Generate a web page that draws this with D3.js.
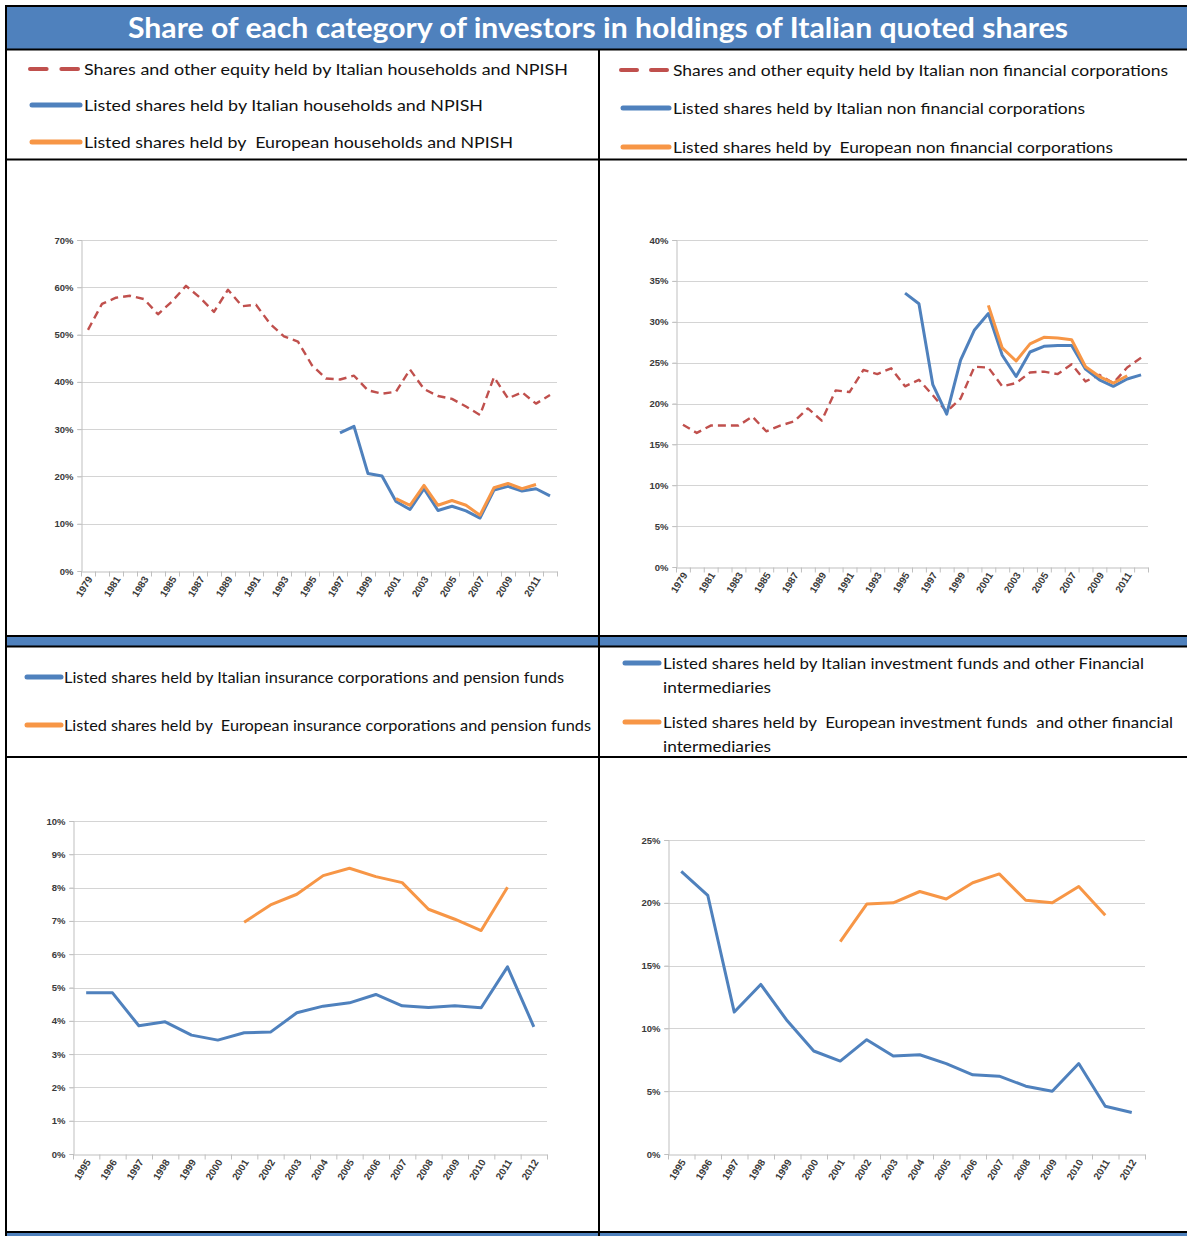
<!DOCTYPE html>
<html>
<head>
<meta charset="utf-8">
<script src="https://cdn.jsdelivr.net/npm/d3@7"></script>
<style>
  body { margin: 0; background: #fff; }
  svg { display: block; font-family: Lato, "Open Sans", sans-serif; }
  text { white-space: pre; }
</style>
</head>
<body>
<svg id="chart" width="1187" height="1236"></svg>
<script>
// ---- Data (values in %) ----
const title = "Share of each category of investors in holdings of Italian quoted shares";

const yearsLong = [1979, 1980, 1981, 1982, 1983, 1984, 1985, 1986, 1987, 1988, 1989, 1990,
  1991, 1992, 1993, 1994, 1995, 1996, 1997, 1998, 1999, 2000, 2001, 2002, 2003, 2004,
  2005, 2006, 2007, 2008, 2009, 2010, 2011, 2012];
const yearsShort = [1995, 1996, 1997, 1998, 1999, 2000, 2001, 2002, 2003, 2004, 2005,
  2006, 2007, 2008, 2009, 2010, 2011, 2012];

// Households and NPISH (1979-2012)
const hhEquityItaly = [51, 56.5, 57.8, 58.2, 57.5, 54.3, 57, 60.3, 57.8, 54.8, 59.5, 56,
  56.3, 52.3, 49.6, 48.5, 43.5, 40.7, 40.5, 41.3, 38.2, 37.5, 37.9, 42.6, 38.5, 37,
  36.4, 34.8, 33, 41, 36.5, 37.8, 35.4, 37.2];
const hhListedItaly = [null, null, null, null, null, null, null, null, null, null, null, null,
  null, null, null, null, null, null, 29.2, 30.6, 20.6, 20.1, 14.7, 13, 17.4, 12.8,
  13.7, 12.7, 11.2, 17.1, 17.9, 16.9, 17.4, 15.9];
const hhListedEurope = [null, null, null, null, null, null, null, null, null, null, null, null,
  null, null, null, null, null, null, null, null, null, null, 15.3, 13.9, 18.1, 13.9,
  14.9, 13.9, 11.8, 17.6, 18.5, 17.4, 18.3, null];

// Non financial corporations (1979-2012)
const nfcEquityItaly = [17.4, 16.4, 17.3, 17.3, 17.3, 18.4, 16.6, 17.3, 17.8, 19.4, 17.9, 21.6,
  21.4, 24.1, 23.6, 24.3, 22.1, 22.9, 21, 19, 20.6, 24.5, 24.4, 22.1, 22.5, 23.8,
  23.9, 23.6, 24.8, 22.7, 23.5, 22.5, 24.4, 25.6];
const nfcListedItaly = [null, null, null, null, null, null, null, null, null, null, null, null,
  null, null, null, null, 33.5, 32.2, 22.3, 18.7, 25.3, 29, 31, 25.9, 23.3, 26.3,
  27, 27.1, 27.1, 24.2, 22.9, 22.1, 23, 23.5];
const nfcListedEurope = [null, null, null, null, null, null, null, null, null, null, null, null,
  null, null, null, null, null, null, null, null, null, null, 32, 26.8, 25.2, 27.3,
  28.1, 28, 27.8, 24.5, 23.3, 22.5, 23.4, null];

// Insurance corporations and pension funds (1995-2012)
const icpfListedItaly = [4.84, 4.84, 3.85, 3.97, 3.57, 3.42, 3.64, 3.66, 4.24, 4.44, 4.54,
  4.79, 4.45, 4.4, 4.45, 4.39, 5.62, 3.82];
const icpfListedEurope = [null, null, null, null, null, null, 6.96, 7.48, 7.8, 8.36, 8.58,
  8.33, 8.15, 7.35, 7.05, 6.71, 8.01, null];

// Investment funds and other financial intermediaries (1995-2012)
const ofiListedItaly = [22.5, 20.6, 11.3, 13.5, 10.6, 8.2, 7.4, 9.1, 7.8, 7.9, 7.2,
  6.3, 6.2, 5.4, 5.0, 7.2, 3.8, 3.3];
const ofiListedEurope = [null, null, null, null, null, null, 16.9, 19.9, 20, 20.9, 20.3,
  21.6, 22.3, 20.2, 20, 21.3, 19, null];

// Legend labels (arrays of lines)
const hhLabels = [["Shares and other equity held by Italian households and NPISH"],
  ["Listed shares held by Italian households and NPISH"],
  ["Listed shares held by  European households and NPISH"]];
const nfcLabels = [["Shares and other equity held by Italian non financial corporations"],
  ["Listed shares held by Italian non financial corporations"],
  ["Listed shares held by  European non financial corporations"]];
const icpfLabels = [["Listed shares held by Italian insurance corporations and pension funds"],
  ["Listed shares held by  European insurance corporations and pension funds"]];
const ofiLabels = [["Listed shares held by Italian investment funds and other Financial", "intermediaries"],
  ["Listed shares held by  European investment funds  and other financial", "intermediaries"]];

// ---- Styles ----
const RED = "#c0504d", BLUE = "#4f81bd", ORANGE = "#f79646";

// ---- Layout of the four panels ----
const panels = [
  {
    cats: yearsLong, labelStep: 2, yMax: 70, yStep: 10,
    plot: { left: 81, right: 557, top: 240, bottom: 571 },
    series: [
      { values: hhEquityItaly, color: RED, dashed: true },
      { values: hhListedItaly, color: BLUE },
      { values: hhListedEurope, color: ORANGE },
    ],
    legend: { symX: 30, symW: 52, textX: 84, rows: [69, 105, 142], widths: [[484], [399], [429]], labels: hhLabels },
  },
  {
    cats: yearsLong, labelStep: 2, yMax: 40, yStep: 5,
    plot: { left: 676, right: 1148, top: 240, bottom: 567 },
    series: [
      { values: nfcEquityItaly, color: RED, dashed: true },
      { values: nfcListedItaly, color: BLUE },
      { values: nfcListedEurope, color: ORANGE },
    ],
    legend: { symX: 621, symW: 50, textX: 673, rows: [70, 108, 147], widths: [[495], [412], [440]], labels: nfcLabels },
  },
  {
    cats: yearsShort, labelStep: 1, yMax: 10, yStep: 1,
    plot: { left: 73, right: 547, top: 821, bottom: 1154 },
    series: [
      { values: icpfListedItaly, color: BLUE },
      { values: icpfListedEurope, color: ORANGE },
    ],
    legend: { symX: 25, symW: 38, textX: 64, rows: [677, 725], widths: [[500], [527]], labels: icpfLabels },
  },
  {
    cats: yearsShort, labelStep: 1, yMax: 25, yStep: 5,
    plot: { left: 668, right: 1145, top: 840, bottom: 1154 },
    series: [
      { values: ofiListedItaly, color: BLUE },
      { values: ofiListedEurope, color: ORANGE },
    ],
    legend: { symX: 623, symW: 38, textX: 663, rows: [663, 722], widths: [[481, 108], [510, 108]], labels: ofiLabels },
  },
];

const svg = d3.select("#chart");

// ---- Frame: title bar, bands and separators ----
svg.append("rect").attr("x", 7).attr("y", 7).attr("width", 1180).attr("height", 42).attr("fill", BLUE);
svg.append("rect").attr("x", 7).attr("y", 637).attr("width", 1180).attr("height", 9).attr("fill", BLUE);
svg.append("rect").attr("x", 7).attr("y", 1233).attr("width", 1180).attr("height", 3).attr("fill", BLUE);

const hLines = [6, 49.5, 159.5, 636, 646.5, 757, 1232];
svg.selectAll(".hline").data(hLines).enter().append("line")
  .attr("x1", 5).attr("x2", 1187)
  .attr("y1", (d) => d).attr("y2", (d) => d)
  .attr("stroke", "#000").attr("stroke-width", 2);
svg.append("line").attr("x1", 6).attr("x2", 6).attr("y1", 5).attr("y2", 1236)
  .attr("stroke", "#000").attr("stroke-width", 2);
svg.append("line").attr("x1", 599).attr("x2", 599).attr("y1", 49).attr("y2", 1236)
  .attr("stroke", "#000").attr("stroke-width", 2);

// Title
svg.append("text")
  .attr("x", 598).attr("y", 38)
  .attr("text-anchor", "middle")
  .attr("fill", "#fff")
  .attr("font-size", 29)
  .attr("font-weight", 700)
  .attr("textLength", 940)
  .attr("lengthAdjust", "spacingAndGlyphs")
  .text(title);

// ---- Draw one panel ----
function drawPanel(p) {
  const { left, right, top, bottom } = p.plot;

  const x = d3.scaleBand().domain(p.cats).range([left, right]);
  const y = d3.scaleLinear().domain([0, p.yMax]).range([bottom, top]);
  const yTicks = d3.range(0, p.yMax + p.yStep / 2, p.yStep);

  const g = svg.append("g");

  // Gridlines
  g.selectAll(".grid").data(yTicks.filter((d) => d > 0)).enter().append("line")
    .attr("x1", left - 4).attr("x2", right)
    .attr("y1", (d) => Math.round(y(d)) + 0.5).attr("y2", (d) => Math.round(y(d)) + 0.5)
    .attr("stroke", "#d4d4d4").attr("stroke-width", 1.2);

  // Y axis
  const yAxis = g.append("g")
    .attr("transform", `translate(${left + 0.5},0)`)
    .call(d3.axisLeft(y).tickValues(yTicks).tickSize(4).tickPadding(4).tickFormat((d) => d + "%"));
  yAxis.select(".domain").attr("stroke", "#bfbfbf");
  yAxis.selectAll(".tick line").attr("stroke", "#bfbfbf");
  yAxis.selectAll("text")
    .attr("fill", "#3a3a3a").attr("font-size", 9.5).attr("font-weight", 700);

  // X axis: boundary ticks
  const xb = d3.scaleLinear().domain([0, p.cats.length]).range([left, right]);
  const xAxisTicks = g.append("g")
    .attr("transform", `translate(0,${Math.round(bottom) + 0.5})`)
    .call(d3.axisBottom(xb).tickValues(d3.range(0, p.cats.length + 1))
      .tickSize(5).tickSizeOuter(0).tickFormat(""));
  xAxisTicks.select(".domain").attr("stroke", "#bfbfbf");
  xAxisTicks.selectAll(".tick line").attr("stroke", "#bfbfbf");

  // X axis: category labels
  const xAxisLabels = g.append("g")
    .attr("transform", `translate(0,${bottom})`)
    .call(d3.axisBottom(x).tickSize(0)
      .tickValues(p.cats.filter((d, i) => i % p.labelStep === 0)));
  xAxisLabels.select(".domain").remove();
  xAxisLabels.selectAll("text")
    .attr("fill", "#3a3a3a").attr("font-size", 10).attr("font-weight", 700)
    .attr("text-anchor", "end")
    .attr("dy", 0)
    .attr("y", 0)
    .attr("transform", "translate(5,8) rotate(-58)");

  // Lines
  const line = d3.line()
    .defined((d) => d.v !== null)
    .x((d) => x(d.c) + x.bandwidth() / 2)
    .y((d) => y(d.v));

  p.series.forEach((s) => {
    const pts = p.cats.map((c, i) => ({ c, v: s.values[i] }));
    g.append("path")
      .datum(pts)
      .attr("fill", "none")
      .attr("stroke", s.color)
      .attr("stroke-width", s.dashed ? 2.4 : 3)
      .attr("stroke-linejoin", "round")
      .attr("stroke-dasharray", s.dashed ? "8,5" : null)
      .attr("d", line);
  });

  // Legend
  const lg = p.legend;
  p.series.forEach((s, i) => {
    const ry = lg.rows[i];
    if (s.dashed) {
      const dash = lg.symW * 0.32;
      [0, lg.symW - dash - 4].forEach((off) => {
        g.append("line")
          .attr("x1", lg.symX + off).attr("x2", lg.symX + off + dash)
          .attr("y1", ry).attr("y2", ry)
          .attr("stroke", s.color).attr("stroke-width", 4).attr("stroke-linecap", "round");
      });
    } else {
      g.append("line")
        .attr("x1", lg.symX + 2).attr("x2", lg.symX + lg.symW - 2)
        .attr("y1", ry).attr("y2", ry)
        .attr("stroke", s.color).attr("stroke-width", 5).attr("stroke-linecap", "round");
    }
    lg.labels[i].forEach((txt, j) => {
      g.append("text")
        .attr("x", lg.textX)
        .attr("y", ry + 6 + j * 24)
        .attr("fill", "#111")
        .attr("font-size", 16)
        .attr("textLength", lg.widths[i][j])
        .attr("lengthAdjust", "spacingAndGlyphs")
        .text(txt);
    });
  });
}

panels.forEach(drawPanel);
</script>
</body>
</html>
